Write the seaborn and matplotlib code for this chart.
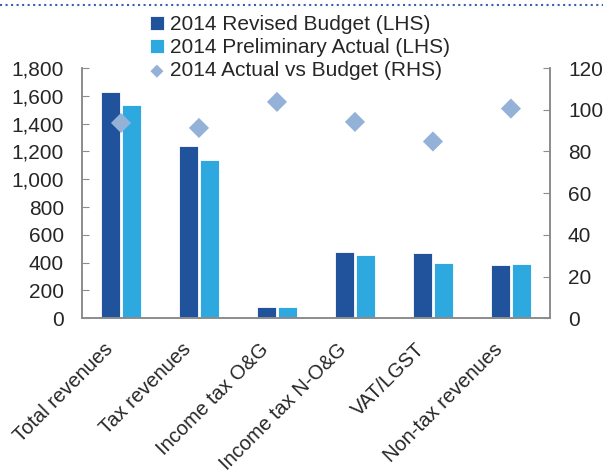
import pandas as pd
import numpy as np
import matplotlib
matplotlib.use('Agg')
import matplotlib.pyplot as plt
import matplotlib.transforms as mtransforms
from matplotlib.lines import Line2D
from matplotlib.ticker import FuncFormatter
import seaborn as sns

# Datos
categorias = ['Total revenues', 'Tax revenues', 'Income tax O&G',
              'Income tax N-O&G', 'VAT/LGST', 'Non-tax revenues']
presupuesto = [1630, 1240, 77, 480, 468, 383]
preliminar = [1532, 1138, 81, 455, 398, 387]
ratio = [93.7, 91.3, 103.8, 94.2, 84.8, 100.6]

serie_presupuesto = '2014 Revised Budget (LHS)'
serie_preliminar = '2014 Preliminary Actual (LHS)'
serie_ratio = '2014 Actual vs Budget (RHS)'

df = pd.DataFrame({
    'categoria': categorias * 2,
    'valor': presupuesto + preliminar,
    'serie': [serie_presupuesto] * len(categorias) + [serie_preliminar] * len(categorias),
})

sns.set_style('white')
plt.rcParams['font.family'] = ['Liberation Sans', 'DejaVu Sans']

gris = '#8c8c8c'
fig = plt.figure(figsize=(6.03, 4.70), dpi=100)
ax = fig.add_axes([0.136, 0.323, 0.776, 0.532])

sns.barplot(data=df, x='categoria', y='valor', hue='serie', ax=ax,
            palette=['#21529c', '#2ea9df'], width=0.54, gap=0.12,
            edgecolor='white', linewidth=0.6, saturation=1)

ax2 = ax.twinx()
sns.scatterplot(x=categorias, y=ratio, ax=ax2, marker='D', s=105,
                color='#94b1d7', edgecolor='none', label=serie_ratio)

ax.set_ylim(0, 1800)
ax.set_yticks(range(0, 1801, 200))
ax.yaxis.set_major_formatter(FuncFormatter(lambda v, p: f'{int(v):,}'))
ax2.set_ylim(0, 120)
ax2.set_yticks(range(0, 121, 20))
ax.set_xlim(-0.5, len(categorias) - 0.5)

ax.set_xlabel('')
ax.set_ylabel('')
ax2.set_ylabel('')

# ejes y marcas
for a in (ax, ax2):
    for s in a.spines.values():
        s.set_color(gris)
        s.set_linewidth(1.2)
    a.spines['top'].set_visible(False)
ax.spines['right'].set_visible(True)

ax.tick_params(axis='y', direction='in', length=5, color=gris, labelsize=15, pad=13)
ax2.tick_params(axis='y', direction='in', length=5, color=gris, labelsize=15, pad=13)
ax.tick_params(axis='x', which='major', length=0, labelsize=14.5, pad=4)
ax.set_xticks(np.arange(0.5, len(categorias) - 1, 1), minor=True)
ax.tick_params(axis='x', which='minor', direction='in', length=5, color=gris, width=1.2)
desplazamiento = mtransforms.ScaledTranslation(-18 / 100, -16 / 100, fig.dpi_scale_trans)
for lab in ax.get_xticklabels():
    lab.set_rotation(45)
    lab.set_ha('right')
    lab.set_rotation_mode('anchor')
    lab.set_transform(lab.get_transform() + desplazamiento)

# leyenda
h1, l1 = ax.get_legend_handles_labels()
h2, l2 = ax2.get_legend_handles_labels()
ax.get_legend().remove()
if ax2.get_legend() is not None:
    ax2.get_legend().remove()
fig.legend(h1 + h2, l1 + l2, loc='upper left', bbox_to_anchor=(0.249, 0.968),
           frameon=False, fontsize=15, handlelength=0.65, handleheight=0.65,
           handletextpad=0.3, labelspacing=0.2, borderaxespad=0, borderpad=0,
           markerscale=0.65)

# linea punteada superior
fig.add_artist(Line2D([0, 1], [0.989, 0.989], transform=fig.transFigure,
                      color='#3a5fb0', linestyle=':', linewidth=1.5))

plt.savefig('out.png', dpi=100)
plt.close()
